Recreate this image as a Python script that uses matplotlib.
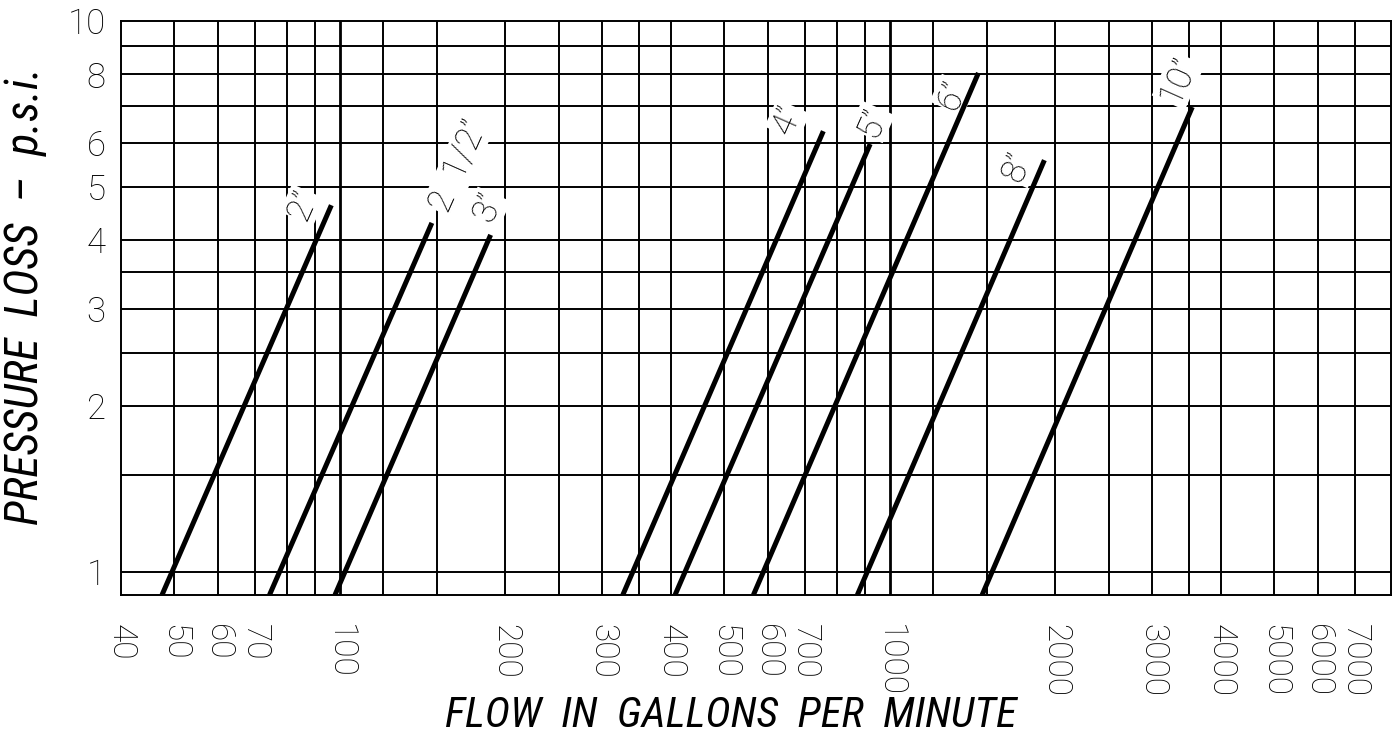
import matplotlib
matplotlib.use("Agg")
import matplotlib.pyplot as plt
from matplotlib import font_manager

# pick a narrow font for the titles if one is installed
installed = {f.name for f in font_manager.fontManager.ttflist}
title_font = 'Roboto'
for cand in ['Roboto Condensed', 'Liberation Sans Narrow', 'DejaVu Sans Condensed']:
    if cand in installed:
        title_font = cand
        break
plt.rcParams['font.family'] = ['Roboto', 'DejaVu Sans']
plt.rcParams['font.weight'] = 'light'

# pipe size curves (straight lines on log-log paper)
pipe_sizes = ['2”', '2  1/2”', '3”', '4”', '5”', '6”', '8”', '10”']
flow_start = [47.5, 74.5, 98, 327, 407, 565, 873, 1472]
flow_end = [96.5, 147, 188, 757, 921, 1449, 1910, 3548]
psi_start = [0.908, 0.908, 0.908, 0.908, 0.908, 0.908, 0.908, 0.908]
psi_end = [4.63, 4.30, 4.09, 6.31, 5.98, 8.05, 5.59, 6.98]

# where each size label sits
label_flow = [85.5, 164, 186, 651, 929, 1299, 1705, 3346]
label_psi = [4.63, 5.45, 4.58, 6.61, 6.56, 7.34, 5.43, 7.81]

flow_grid = [50, 60, 70, 80, 90, 100, 120, 150, 200, 250, 300, 350, 400,
             500, 600, 700, 800, 900, 1000, 1200, 1500, 2000, 2500, 3000,
             3500, 4000, 5000, 6000, 7000]
psi_grid = [1, 1.5, 2, 2.5, 3, 3.5, 4, 5, 6, 7, 8, 9]

flow_ticks = [40, 50, 60, 70, 100, 200, 300, 400, 500, 600, 700,
              1000, 2000, 3000, 4000, 5000, 6000, 7000]
psi_ticks = [1, 2, 3, 4, 5, 6, 8, 10]

fig = plt.figure(figsize=(13.94, 7.38), dpi=100)
ax = fig.add_axes([0.0868, 0.194, 0.911, 0.7775])
ax.set_xscale('log')
ax.set_yscale('log')
ax.set_xlim(40, 8150)
ax.set_ylim(0.908, 10)

for f in flow_grid:
    lw = 2.0 if f in (100, 1000) else 1.4
    ax.axvline(f, color='black', linewidth=lw, zorder=1)
for p in psi_grid:
    ax.axhline(p, color='black', linewidth=1.4, zorder=1)

for i in range(len(pipe_sizes)):
    ax.plot([flow_start[i], flow_end[i]], [psi_start[i], psi_end[i]],
            color='black', linewidth=3.6, solid_capstyle='butt', zorder=4)
    ax.text(label_flow[i], label_psi[i], pipe_sizes[i], rotation=66,
            ha='center', va='center', fontsize=25, zorder=3,
            bbox=dict(facecolor='white', edgecolor='none', pad=1))

ax.xaxis.set_minor_locator(matplotlib.ticker.NullLocator())
ax.yaxis.set_minor_locator(matplotlib.ticker.NullLocator())
ax.set_xticks(flow_ticks)
ax.set_xticklabels([str(v) for v in flow_ticks], rotation=270, fontsize=24,
                   va='top', ha='center')
ax.set_yticks(psi_ticks)
ax.set_yticklabels([str(v) for v in psi_ticks], fontsize=25)
ax.tick_params(length=0, pad=11)
ax.tick_params(axis='x', pad=21)

for s in ax.spines.values():
    s.set_linewidth(1.4)

ax.set_xlabel('FLOW  IN  GALLONS  PER  MINUTE', fontsize=31, style='italic',
              weight='normal', family=[title_font, 'DejaVu Sans'])
ax.set_ylabel('PRESSURE  LOSS  –  p.s.i.', fontsize=33, style='italic',
              weight='normal', family=[title_font, 'DejaVu Sans'])
ax.xaxis.set_label_coords(0.48, -0.174)
ax.yaxis.set_label_coords(-0.058, 0.52)

fig.savefig('out.png', dpi=100)
